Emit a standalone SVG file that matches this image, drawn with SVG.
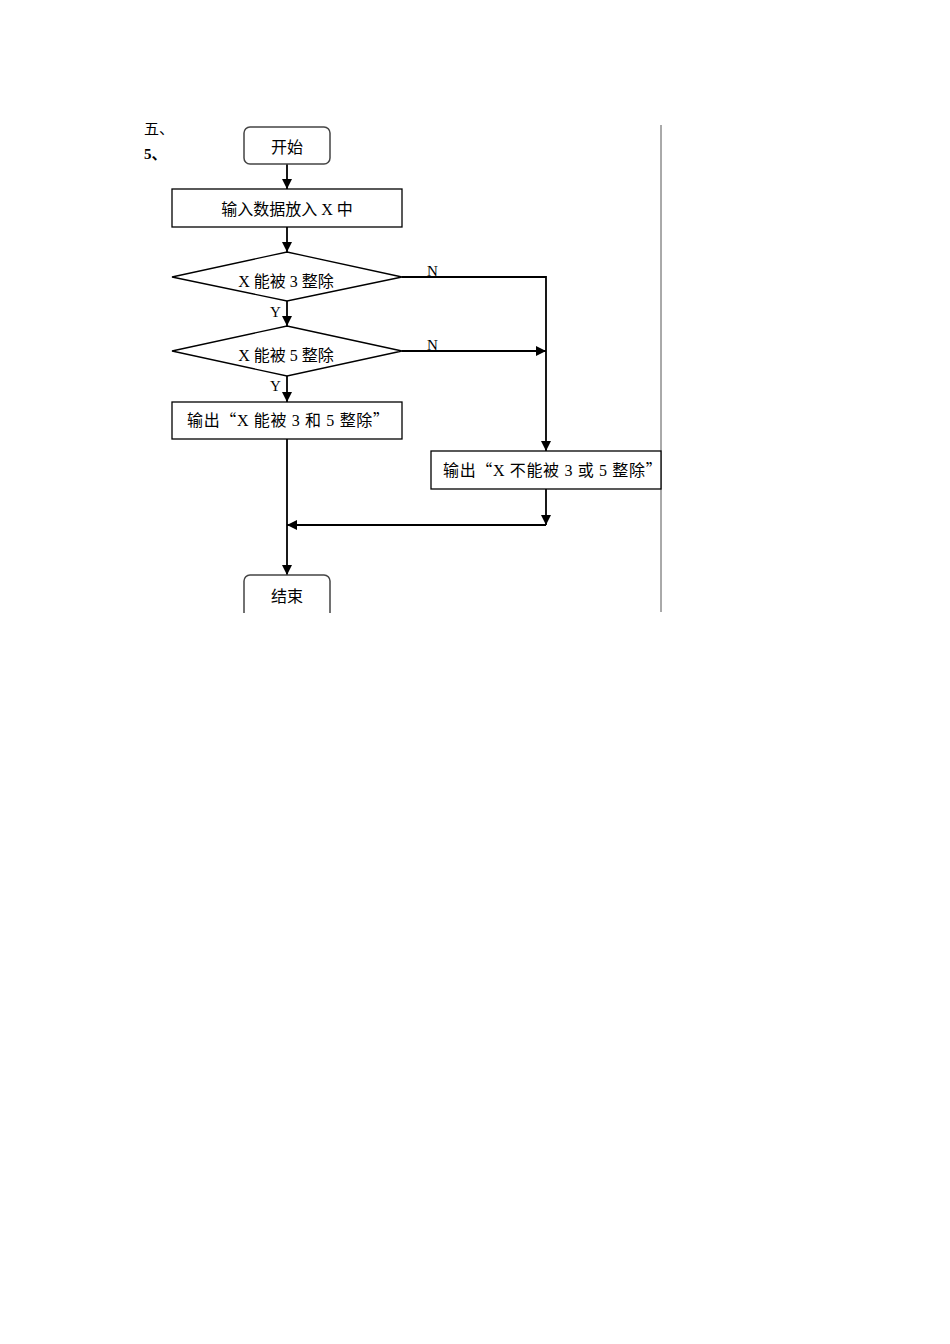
<svg xmlns="http://www.w3.org/2000/svg" width="950" height="1344" viewBox="0 0 950 1344">
<defs>
<style>
.t{font-family:"Liberation Serif","Noto Sans CJK SC",serif;font-size:16px;fill:#000}
.w{letter-spacing:0.65px}
.s{font-family:"Liberation Serif","Noto Sans CJK SC",serif;font-size:15px;fill:#000}
.q{font-family:"Noto Sans CJK SC",sans-serif}
.box{fill:#fff;stroke:#000;stroke-width:1.3}
.rb{fill:#fff;stroke:#444;stroke-width:1.5}
.ln{fill:none;stroke:#000;stroke-width:1.8}
</style>
<marker id="ah" viewBox="0 0 10 10" refX="10" refY="5" markerWidth="10" markerHeight="10" markerUnits="userSpaceOnUse" orient="auto">
<path d="M0,0 L10,5 L0,10 Z" fill="#000"/>
</marker>
</defs>
<rect width="950" height="1344" fill="#fff"/>
<text class="s" x="144" y="134" font-size="16">五、</text>
<text class="s" x="144" y="159" font-weight="bold">5、</text>
<line x1="661" y1="125" x2="661" y2="612" stroke="#555" stroke-width="1"/>
<g id="connectors">
<line class="ln" x1="287" y1="164" x2="287" y2="189" marker-end="url(#ah)"/>
<line class="ln" x1="287" y1="227" x2="287" y2="252" marker-end="url(#ah)"/>
<line class="ln" x1="287" y1="301" x2="287" y2="326" marker-end="url(#ah)"/>
<line class="ln" x1="287" y1="376" x2="287" y2="402" marker-end="url(#ah)"/>
<polyline class="ln" points="402,277 546,277 546,451" marker-end="url(#ah)"/>
<line class="ln" x1="402" y1="351" x2="546" y2="351" marker-end="url(#ah)"/>
<line class="ln" x1="546" y1="489" x2="546" y2="525" marker-end="url(#ah)"/>
<line class="ln" x1="546" y1="525" x2="287" y2="525" marker-end="url(#ah)"/>
<line class="ln" x1="287" y1="439" x2="287" y2="575" marker-end="url(#ah)"/>
<text class="s" x="427" y="276">N</text>
<text class="s" x="427" y="350">N</text>
<text class="s" x="270" y="317">Y</text>
<text class="s" x="270" y="391">Y</text>
</g>
<g id="start">
<rect class="rb" x="244" y="127" width="86" height="37" rx="6"/>
<text class="t" x="287" y="153" text-anchor="middle">开始</text>
</g>
<g id="input">
<rect class="box" x="172" y="189" width="230" height="38"/>
<text class="t" x="287" y="215" text-anchor="middle">输入数据放入 X 中</text>
</g>
<g id="dec3">
<polygon class="box" points="287,252 402,277 287,301 172,277"/>
<text class="t" x="286" y="287" text-anchor="middle">X 能被 3 整除</text>
</g>
<g id="dec5">
<polygon class="box" points="287,326 402,351 287,376 172,351"/>
<text class="t" x="286" y="361" text-anchor="middle">X 能被 5 整除</text>
</g>
<g id="out-yes">
<rect class="box" x="172" y="402" width="230" height="37"/>
<text class="t w" x="187" y="426">输出<tspan class="q">“</tspan>X 能被 3 和 5 整除<tspan class="q">”</tspan></text>
</g>
<g id="out-no">
<rect class="box" x="431" y="451" width="230" height="38" stroke-width="2"/>
<text class="t w" x="443" y="476">输出<tspan class="q">“</tspan>X 不能被 3 或 5 整除<tspan class="q">”</tspan></text>
</g>
<g id="end">
<rect class="rb" x="244" y="575" width="86" height="45" rx="6"/>
<rect x="230" y="613" width="120" height="20" fill="#fff"/>
<text class="t" x="287" y="602" text-anchor="middle">结束</text>
</g>
</svg>
